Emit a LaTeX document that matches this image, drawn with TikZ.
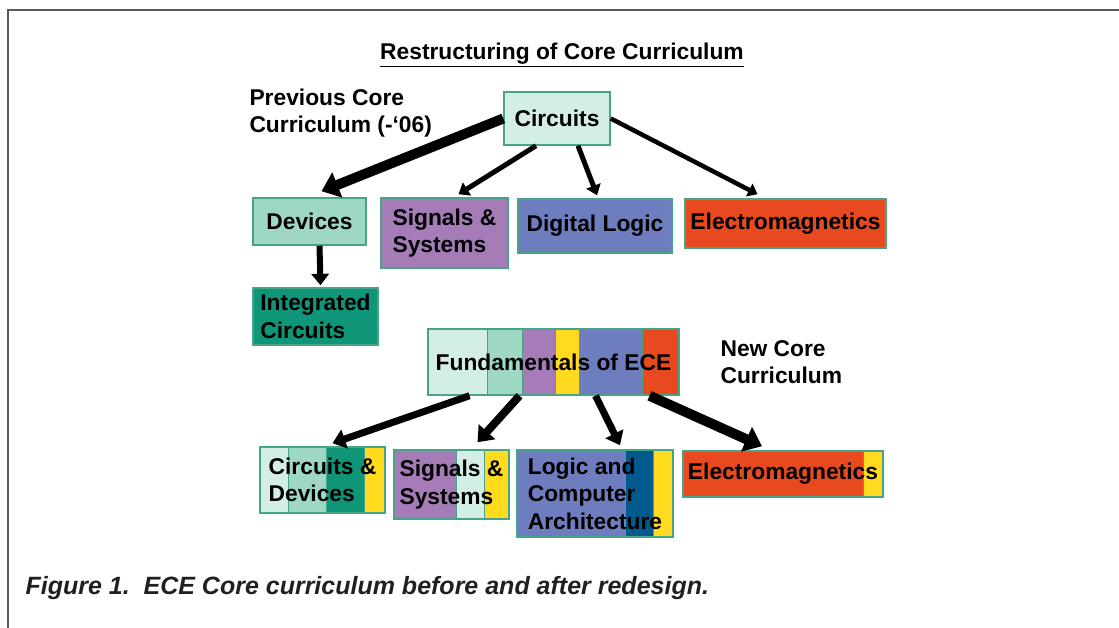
\documentclass[tikz,border=0pt]{standalone}
\usepackage{fontspec}
\setmainfont{Liberation Sans}
\usetikzlibrary{arrows.meta}

\definecolor{lightmint}{HTML}{D3EEE7}
\definecolor{mint}{HTML}{9ED8C5}
\definecolor{darkteal}{HTML}{0F9577}
\definecolor{purple}{HTML}{A57CB8}
\definecolor{yellow}{HTML}{FFDA1F}
\definecolor{blue}{HTML}{6E7DBE}
\definecolor{darkblue}{HTML}{005A8E}
\definecolor{red}{HTML}{E8491F}
\definecolor{boxline}{HTML}{47A486}
\definecolor{captiongray}{HTML}{231F20}

\tikzset{
	box/.style={draw=boxline, line width=1.5pt, inner sep=1pt, align=left,
		font=\fontsize{22.8}{27.5}\selectfont\bfseries},
	seg/.style={draw=boxline, line width=0.8pt},
	arrow/.style={line width=#1, -{Triangle[length=3pt 1.4, width=4pt 2.2]}},
	label/.style={align=left, font=\fontsize{22.8}{27.5}\selectfont\bfseries}
}

\begin{document}
\begin{tikzpicture}[x=1pt, y=-1pt]
		\useasboundingbox (0,0) rectangle (1119,628);
		%frame
		\draw[gray!70!black, line width=1.5pt] (8,628) -- (8,10) -- (1119,10);
		
		\node (title) at (562,55) [font=\fontsize{22.8}{27}\selectfont\bfseries]{\underline{Restructuring of Core Curriculum}};
		
		%previous core
		\node (prev) at (246,85) [label, anchor=north west]{Previous Core\\Curriculum (-‘06)};
		\node (circ) at (557,118.5) [box, fill=lightmint, minimum width=106pt, minimum height=53pt]{Circuits};
		\node (dev) at (309.5,221.5) [box, fill=mint, minimum width=113pt, minimum height=47pt]{Devices};
		\node (sig) at (444.5,233) [box, fill=purple, minimum width=127pt, minimum height=70pt]{Signals \&\\Systems};
		\node (dig) at (595,226) [box, fill=blue, minimum width=154pt, minimum height=54pt]{Digital Logic};
		\node (em) at (785.5,223.5) [box, fill=red, minimum width=201pt, minimum height=49pt]{Electromagnetics};
		\node (ic) at (315.5,316.5) [box, fill=darkteal, minimum width=125pt, minimum height=57pt]{Integrated\\Circuits};
		
		\draw[arrow=10pt] (circ.west) -- ([xshift=12pt, yshift=6pt]dev.north);
		\draw[arrow=5pt] ([xshift=-21pt]circ.south) -- ([xshift=14pt, yshift=3pt]sig.north);
		\draw[arrow=5pt] ([xshift=21pt]circ.south) -- ([xshift=2pt, yshift=3pt]dig.north);
		\draw[arrow=4.5pt] (circ.east) -- ([xshift=-28pt, yshift=4pt]em.north);
		\draw[arrow=6pt] ([xshift=10pt]dev.south) -- ([xshift=5pt, yshift=2pt]ic.north);
		
		%new core
		\foreach \xa/\xb/\col in {428/487/lightmint, 487/522/mint, 522/555/purple, 555/579/yellow, 579/642/blue, 642/679/red}{
			\filldraw[seg, fill=\col] (\xa,329) rectangle (\xb,395);
		}
		\foreach \xa/\xb/\col in {260/288/lightmint, 288/326/mint, 326/364/darkteal, 364/385/yellow}{
			\filldraw[seg, fill=\col] (\xa,447) rectangle (\xb,513);
		}
		\foreach \xa/\xb/\col in {394/456/purple, 456/484/lightmint, 484/509/yellow}{
			\filldraw[seg, fill=\col] (\xa,450) rectangle (\xb,519);
		}
		\foreach \xa/\xb/\col in {517/625/blue, 625/653/darkblue, 653/673/yellow}{
			\filldraw[seg, fill=\col] (\xa,450) rectangle (\xb,537);
		}
		\foreach \xa/\xb/\col in {683/863/red, 863/883/yellow}{
			\filldraw[seg, fill=\col] (\xa,451) rectangle (\xb,497);
		}
		
		\node (fund) at (553.5,362) [box, minimum width=251pt, minimum height=66pt]{Fundamentals of ECE};
		\node (new) at (717,337) [label, anchor=north west]{New Core\\Curriculum};
		\node (cd) at (322.5,480) [box, minimum width=125pt, minimum height=66pt]{Circuits \&\\Devices};
		\node (ss) at (451.5,484.5) [box, minimum width=115pt, minimum height=69pt]{Signals \&\\Systems};
		\node (lca) at (595,493.5) [box, minimum width=156pt, minimum height=87pt]{Logic and\\Computer\\Architecture};
		\node (emn) at (783,474) [box, minimum width=200pt, minimum height=46pt]{Electromagnetics};
		
		\draw[arrow=7pt] ([xshift=-84pt]fund.south) -- ([xshift=10pt, yshift=3pt]cd.north);
		\draw[arrow=8pt] ([xshift=-34pt]fund.south) -- ([xshift=26pt, yshift=7pt]ss.north);
		\draw[arrow=7pt] ([xshift=42pt]fund.south) -- ([xshift=25pt, yshift=4pt]lca.north);
		\draw[arrow=10pt] ([xshift=96pt]fund.south) -- ([xshift=-21pt, yshift=4pt]emn.north);
		
		\node (caption) at (22,588) [anchor=west, text=captiongray, font=\fontsize{25}{29}\selectfont\bfseries\itshape]{Figure 1.\ \ ECE Core curriculum before and after redesign.};
\end{tikzpicture}
\end{document}
